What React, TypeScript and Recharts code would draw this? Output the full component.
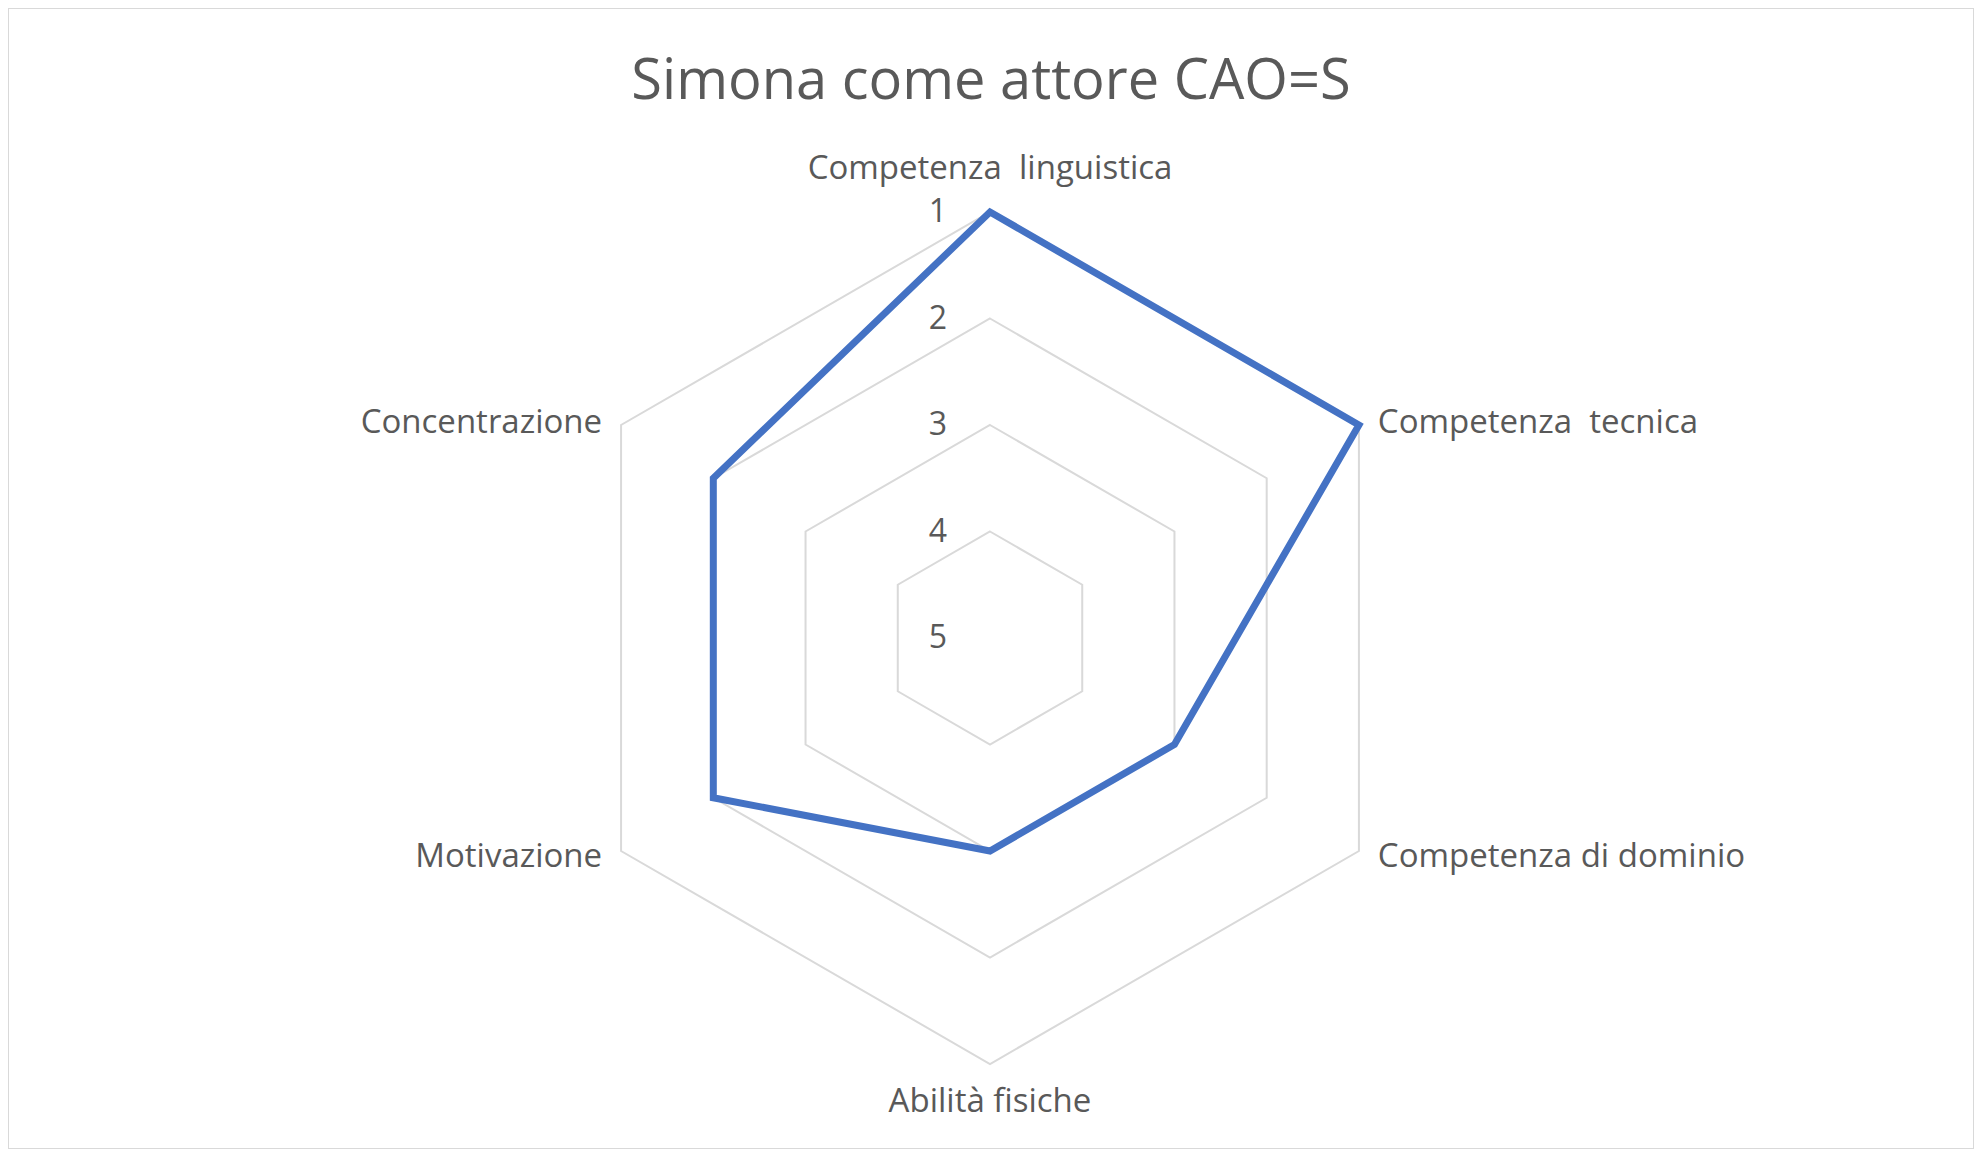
import { RadarChart, Radar, PolarGrid, PolarAngleAxis, PolarRadiusAxis } from 'recharts';

const categories = [
  'Competenza  linguistica',
  'Competenza  tecnica',
  'Competenza di dominio',
  'Abilità fisiche',
  'Motivazione',
  'Concentrazione',
];
const values = [1, 1, 3, 3, 2, 2];
const radiusTicks = [1, 2, 3, 4, 5];

const data = categories.map((c, i) => ({ name: c, value: values[i] }));

const FONT = '"Open Sans", "Liberation Sans", sans-serif';
const CX = 981;
const CY = 629;

const AngleTick = (p: any) => {
  const dx = p.x - CX;
  const dy = p.y - CY;
  let x = p.x;
  let y = p.y + 12;
  let anchor: 'start' | 'middle' | 'end' = 'middle';
  if (Math.abs(dx) < 5) {
    y = dy < 0 ? p.y - 25 : p.y + 40;
  } else {
    anchor = dx > 0 ? 'start' : 'end';
    x = dx > 0 ? p.x + 12 : p.x - 12;
  }
  return (
    <text
      x={x}
      y={y}
      textAnchor={anchor}
      fill="#595959"
      fontSize={33}
      fontFamily={FONT}
      style={{ whiteSpace: 'pre' }}
    >
      {p.payload.value}
    </text>
  );
};

export default function App() {
  return (
    <div
      style={{
        position: 'relative',
        width: 1964,
        height: 1139,
        border: '1px solid #d9d9d9',
        background: '#fff',
        fontFamily: FONT,
      }}
    >
      <div
        style={{
          position: 'absolute',
          top: 30,
          left: 0,
          width: '100%',
          textAlign: 'center',
          fontSize: 56,
          color: '#595959',
        }}
      >
        Simona come attore CAO=S
      </div>
      <RadarChart
        width={1964}
        height={1139}
        data={data}
        cx={CX}
        cy={CY}
        outerRadius={426}
        startAngle={90}
        endAngle={-270}
      >
        <PolarGrid gridType="polygon" radialLines={false} stroke="#d9d9d9" strokeWidth={2} />
        <PolarAngleAxis dataKey="name" axisLine={false} tickLine={false} tick={AngleTick} />
        <PolarRadiusAxis
          angle={90}
          domain={[1, 5]}
          ticks={radiusTicks as any}
          reversed
          axisLine={false}
          tickLine={false}
          tick={(p: any) => (
            <text
              x={p.x - 52}
              y={p.y}
              dy={10}
              textAnchor="middle"
              fill="#595959"
              fontSize={32}
              fontFamily={FONT}
            >
              {p.payload.value}
            </text>
          )}
        />
        <Radar
          dataKey="value"
          stroke="#4472C4"
          strokeWidth={7}
          fill="none"
          dot={false}
          isAnimationActive={false}
        />
      </RadarChart>
    </div>
  );
}
